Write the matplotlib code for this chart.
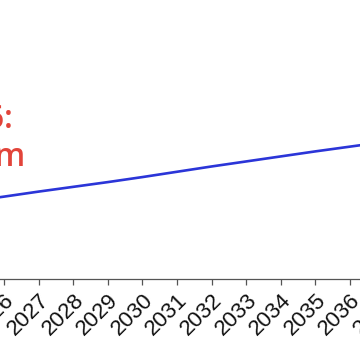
import matplotlib
matplotlib.use('Agg')
import matplotlib.pyplot as plt

# yearly projection (arbitrary units)
years = [2025, 2026, 2027, 2028, 2029, 2030, 2031, 2032, 2033, 2034, 2035, 2036, 2037]
values = [27.9, 29.6, 31.4, 33.1, 34.8, 36.6, 38.5, 40.4, 42.2, 44.0, 45.8, 47.5, 49.2]
tick_labels = [str(y) for y in years]
callout_top = '2026:'
callout_bottom = '29.6m'

W = H = 360.0
fig = plt.figure(figsize=(3.6, 3.6), dpi=100)
fig.patch.set_facecolor('white')

# axes is wider than the figure, the picture is a crop of a bigger chart
ax = fig.add_axes([-30.6 / W, 80.7 / H, 415.2 / W, 279.3 / H])
ax.plot(years, values, color='#2b35d8', linewidth=1.9, solid_capstyle='round')
ax.set_xlim(2025, 2037)
ax.set_ylim(0, 100)

ax.set_xticks(years)
ax.set_xticklabels(tick_labels, rotation=45, ha='right', rotation_mode='anchor',
                   fontsize=16, family='Liberation Sans', color='#111111')
ax.tick_params(axis='x', length=4.5, width=0.9, color='#555555', pad=3)
ax.set_yticks([])
for side in ['top', 'right', 'left']:
    ax.spines[side].set_visible(False)
ax.spines['bottom'].set_color('#555555')
ax.spines['bottom'].set_linewidth(0.9)

# red callout, cut off at the left edge
fig.text(13.5 / W, 1 - 128 / H, callout_top, ha='right', va='baseline',
         fontsize=23, color='#e2443a', family='Open Sans', fontweight='semibold')
fig.text(25.5 / W, 1 - 166 / H, callout_bottom, ha='right', va='baseline',
         fontsize=23, color='#e2443a', family='Open Sans', fontweight='semibold')

fig.savefig('out.png', dpi=100, facecolor='white')
